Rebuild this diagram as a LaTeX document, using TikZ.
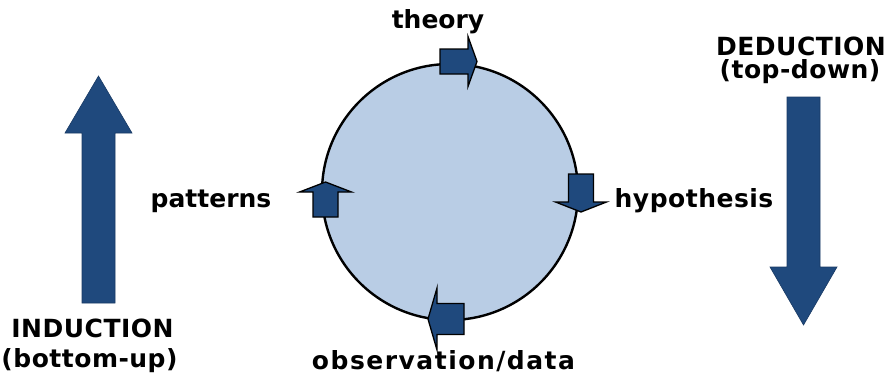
\documentclass[tikz,border=0pt]{standalone}
\usepackage{fontspec}
\setmainfont{DejaVu Sans}
\usetikzlibrary{
positioning,
calc
}
\definecolor{ringblue}{RGB}{185,205,229}
\definecolor{arrowblue}{RGB}{31,73,125}
\tikzset{
label/.style={
font=\bfseries\fontsize{25}{28}\selectfont,
inner sep=0pt,
anchor=base
},
ring/.style={
circle,
draw,
line width=2.4pt,
fill=ringblue,
minimum size=256pt,
inner sep=0pt
},
smallarrow/.style={
draw,
line width=1.3pt,
line join=miter,
fill=arrowblue
},
bigarrow/.style={
draw=arrowblue!80!black,
line width=0.6pt,
fill=arrowblue
}
}
% block arrow pointing along +x: length, shaft width, head width, head length
\newcommand{\blockarr}[4]{%
(-#1/2,-#2/2) -- (#1/2-#4,-#2/2) -- (#1/2-#4,-#3/2) -- (#1/2,0) --
(#1/2-#4,#3/2) -- (#1/2-#4,#2/2) -- (-#1/2,#2/2) -- cycle}

\begin{document}
\begin{tikzpicture}[x=1pt,y=-1pt]
\useasboundingbox (0,0) rectangle (894,381);

\node[ring] (ring) at (450,192) {};

% arrows around the circle
\draw[smallarrow, shift={(458.5,61.5)}] \blockarr{37}{25}{50}{9};
\draw[smallarrow, shift={(581,193)}, rotate=-90] \blockarr{38}{25}{51}{10};
\draw[smallarrow, shift={(446,319)}, rotate=180] \blockarr{36}{31}{62}{9};
\draw[smallarrow, shift={(325.5,199.5)}, rotate=90] \blockarr{35}{25}{52}{10};

% induction / deduction arrows
\draw[bigarrow, shift={(98.5,189.5)}, rotate=90] \blockarr{227}{33}{67}{57};
\draw[bigarrow, shift={(803.5,211)}, rotate=-90] \blockarr{228}{33}{67}{58};

\node[label] (theory) at (438,28) {theory};
\node[label] (hypo) at (694,207) {\addfontfeature{LetterSpace=2}hypothesis};
\node[label] (obs) at (443.5,369) {\addfontfeature{LetterSpace=6}observation/data};
\node[label] (patt) at (211,207) {patterns};

\node[label] (ind) at (92.5,337) {\addfontfeature{LetterSpace=2}INDUCTION};
\node[label] (indsub) at (89.5,367) {\addfontfeature{LetterSpace=2}(bottom-up)};
\node[label] (ded) at (801,55) {\addfontfeature{LetterSpace=2}DEDUCTION};
\node[label] (dedsub) at (800,78) {\addfontfeature{LetterSpace=2}(top-down)};
\end{tikzpicture}
\end{document}
